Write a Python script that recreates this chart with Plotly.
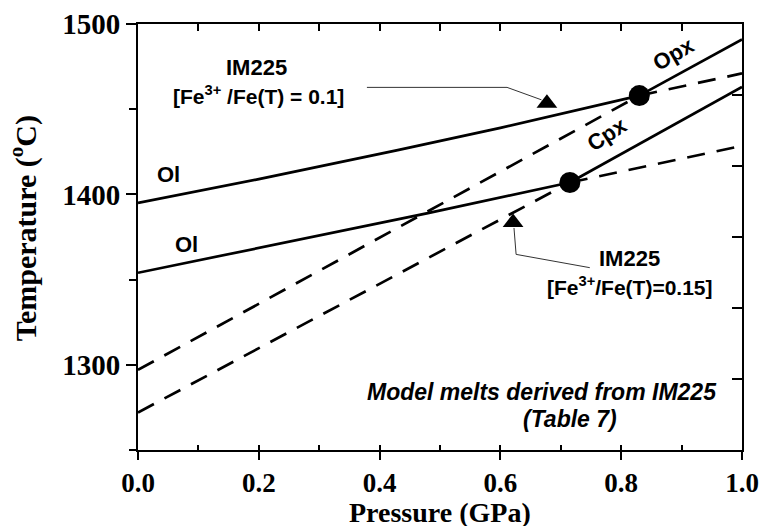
import plotly.graph_objects as go

# ---------------- data ----------------
# Fe3+/Fe(T) = 0.1 (upper set)
P_ol_1 = [0.0, 0.2, 0.43, 0.6, 0.83]
T_ol_1 = [1395, 1409, 1426, 1439, 1458]
P_opx = [0.83, 1.0]
T_opx = [1458, 1491]
P_ol_1_ext = [0.83, 1.0]
T_ol_1_ext = [1458, 1471]
P_opx_ext = [0.0, 0.83]
T_opx_ext = [1297, 1458]

# Fe3+/Fe(T) = 0.15 (lower set)
P_ol_2 = [0.0, 0.48, 0.715]
T_ol_2 = [1354, 1389, 1407]
P_cpx = [0.715, 1.0]
T_cpx = [1407, 1463]
P_ol_2_ext = [0.715, 1.0]
T_ol_2_ext = [1407, 1428.5]
P_cpx_ext = [0.0, 0.715]
T_cpx_ext = [1272, 1407]

# saturation points (dots)
P_dots = [0.83, 0.715]
T_dots = [1458, 1407]

# axis ticks
x_ticks = [0.0, 0.2, 0.4, 0.6, 0.8, 1.0]
x_labels = ["0.0", "0.2", "0.4", "0.6", "0.8", "1.0"]
x_top_ticks = [0.1, 0.2, 0.3, 0.4, 0.5, 0.6, 0.7, 0.8, 0.9]
y_ticks = [1300, 1400, 1500]
y_labels = ["1300", "1400", "1500"]
y_right_ticks = [1250 + k * 250 / 6 for k in range(1, 6)]

# leader lines and pointer triangles of the labels
lead1_P = [0.379, 0.611, 0.668]
lead1_T = [1462.8, 1462.8, 1455.5]
tri1 = (0.677, 1453.5)
lead2_P = [0.6225, 0.626, 0.748]
lead2_T = [1380.3, 1364.8, 1357.0]
tri2 = (0.621, 1383.5)

SERIF = "Liberation Serif, Times New Roman, serif"
SANS = "Liberation Sans, Arial, sans-serif"

fig = go.Figure()

def line(xs, ys, dash="solid", width=2.7):
    fig.add_trace(go.Scatter(x=xs, y=ys, mode="lines",
                             line=dict(color="black", width=width, dash=dash),
                             hoverinfo="skip"))

line(P_ol_1, T_ol_1)
line(P_opx, T_opx)
line(P_ol_1_ext, T_ol_1_ext, dash="18px,12px")
line(P_opx_ext, T_opx_ext, dash="18px,12px")
line(P_ol_2, T_ol_2)
line(P_cpx, T_cpx)
line(P_ol_2_ext, T_ol_2_ext, dash="18px,12px")
line(P_cpx_ext, T_cpx_ext, dash="18px,12px")

fig.add_trace(go.Scatter(x=P_dots, y=T_dots, mode="markers",
                         marker=dict(color="black", size=21, symbol="circle"),
                         hoverinfo="skip"))

# leader lines
fig.add_trace(go.Scatter(x=lead1_P, y=lead1_T, mode="lines",
                         line=dict(color="#333333", width=1), hoverinfo="skip"))
fig.add_trace(go.Scatter(x=lead2_P, y=lead2_T, mode="lines",
                         line=dict(color="#333333", width=1), hoverinfo="skip"))
fig.add_trace(go.Scatter(x=[tri1[0], tri2[0]], y=[tri1[1], tri2[1]], mode="markers",
                         marker=dict(color="black", size=18, symbol="triangle-up"),
                         hoverinfo="skip"))

# invisible trace for the mirrored top/right axes
fig.add_trace(go.Scatter(x=[None], y=[None], xaxis="x2", yaxis="y2",
                         mode="markers", hoverinfo="skip"))

def label(x, y, text, size=22, angle=0, font=SANS, xanchor="center"):
    fig.add_annotation(x=x, y=y, xref="x", yref="y", text=text, showarrow=False,
                       textangle=angle, xanchor=xanchor,
                       font=dict(family=font, size=size, color="black"))

label(0.197, 1474.6, "<b>IM225</b>")
label(0.200, 1458.1, "<b>[Fe<sup>3+</sup> /Fe(T) = 0.1]</b>", size=21)
label(0.813, 1362.6, "<b>IM225</b>")
label(0.815, 1346.1, "<b>[Fe<sup>3+</sup>/Fe(T)=0.15]</b>", size=21)
label(0.050, 1411.9, "<b>Ol</b>")
label(0.081, 1370.6, "<b>Ol</b>")
label(0.888, 1482.5, "<b>Opx</b>", angle=-30)
label(0.776, 1435.1, "<b>Cpx</b>", angle=-33)
label(0.962, 1284.2, "<b><i>Model melts derived from IM225</i></b>", size=23, xanchor="right")
label(0.715, 1268.0, "<b><i>(Table 7)</i></b>", size=23)

# axis titles
fig.add_annotation(x=0.5, y=-0.146, xref="paper", yref="paper", showarrow=False,
                   text="<b>Pressure (GPa)</b>", yanchor="middle",
                   font=dict(family=SERIF, size=28, color="black"))
fig.add_annotation(x=-0.19, y=0.521, xref="paper", yref="paper", showarrow=False,
                   text="<b>Temperature (<sup>o</sup>C)</b>", textangle=-90,
                   xanchor="center", yanchor="middle",
                   font=dict(family=SERIF, size=30, color="black"))

axis_common = dict(showline=True, linecolor="black", linewidth=2,
                   showgrid=False, zeroline=False, automargin=False)

fig.update_layout(
    width=764, height=526,
    margin=dict(l=138, r=22, t=24, b=76),
    plot_bgcolor="white", paper_bgcolor="white",
    showlegend=False,
    xaxis=dict(range=[0, 1], tickvals=x_ticks, ticktext=x_labels,
               ticks="outside", ticklen=8, tickwidth=2, tickcolor="black",
               ticklabelstandoff=0,
               minor=dict(tickvals=x_top_ticks, ticks="inside", ticklen=5,
                          tickwidth=1.5, tickcolor="black"),
               tickfont=dict(family=SERIF, size=27, color="black", weight="bold"),
               **axis_common),
    yaxis=dict(range=[1250, 1500], tickvals=y_ticks, ticktext=y_labels,
               ticks="outside", ticklen=10, tickwidth=2, tickcolor="black",
               minor=dict(tickvals=[1250, 1350, 1450], ticks="outside", ticklen=7,
                          tickwidth=1.5, tickcolor="black"),
               tickfont=dict(family=SERIF, size=29, color="black", weight="bold"),
               **axis_common),
    xaxis2=dict(overlaying="x", side="top", range=[0, 1], tickvals=x_top_ticks,
                ticks="inside", ticklen=7, tickwidth=1.5, tickcolor="black",
                showticklabels=False, **axis_common),
    yaxis2=dict(overlaying="y", side="right", range=[1250, 1500],
                tickvals=y_right_ticks, ticks="inside", ticklen=10, tickwidth=1.5,
                tickcolor="black", showticklabels=False, **axis_common),
)

fig.write_html("out.html")
